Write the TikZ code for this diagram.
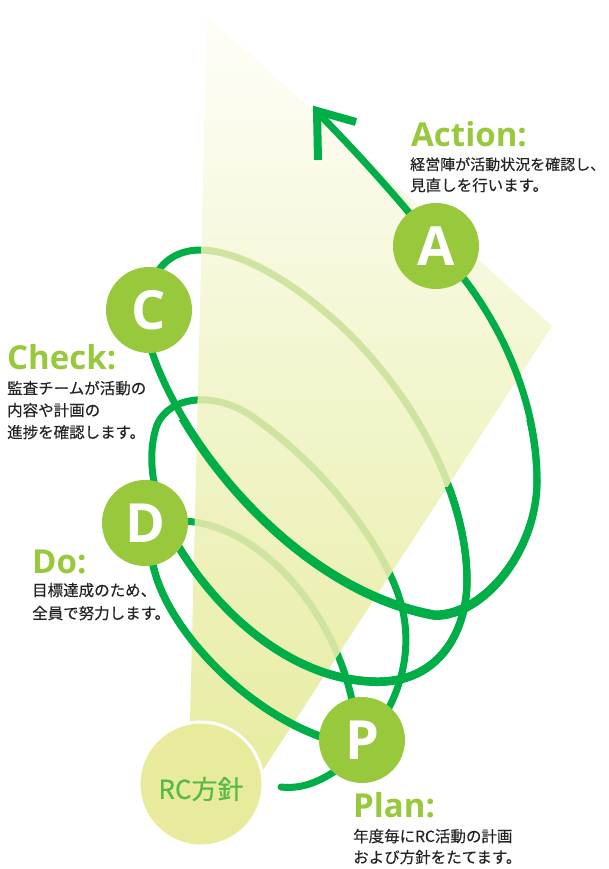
\documentclass[tikz,border=0pt]{standalone}
\usepackage{fontspec}
\newfontfamily\jp{Noto Sans CJK JP}[FakeBold=0.25]
\newfontfamily\jpm{Noto Sans CJK JP}[FakeBold=0.6]
\newfontfamily\ttl{Open Sans}
\definecolor{sgreen}{RGB}{0,174,72}
\definecolor{lgreen}{RGB}{152,201,60}
\definecolor{paleg}{RGB}{208,228,162}
\definecolor{conelo}{RGB}{231,236,160}
\definecolor{conemid}{RGB}{243,246,208}
\definecolor{conehi}{RGB}{254,254,249}
\definecolor{rcfill}{RGB}{232,235,155}
\definecolor{rctext}{RGB}{88,184,72}
\definecolor{bodyc}{RGB}{35,35,35}
\begin{document}
\begin{tikzpicture}[x=1pt,y=-1pt,
  spiral/.style={draw=sgreen, line width=7pt},
  paleline/.style={draw=paleg, line width=7pt},
  lbl/.style={circle, fill=lgreen, minimum size=86pt, inner sep=0pt, text=white,
    font=\ttl\bfseries\fontsize{54}{54}\selectfont},
  ttlstyle/.style={text=lgreen, font=\ttl\bfseries\fontsize{33}{33}\selectfont, anchor=base west, inner sep=0pt},
  bodytxt/.style={text=bodyc, font=\jp\fontsize{15.5}{20}\selectfont, anchor=base west, inner sep=0pt},
]
\useasboundingbox (0,0) rectangle (608,869);
\def\conepath{(207,15) -- (552,326) -- (263,770) -- (201,784) -- (190,722) -- cycle}
% small back loop: D right -> P top
\def\pathS{(175,521) .. controls (250,518) and (330,600) .. (352,700) -- (354,715)}
% back loop: P top-right -> D top
\def\pathPback{(385,715) .. controls (405,680) and (412,640) .. (400,600)
  .. controls (385,550) and (330,470) .. (250,415)
  .. controls (215,392) and (170,395) .. (157,425)
  .. controls (150,445) and (150,470) .. (157,495)}
% loop D -> C (front bottom, back top)
\def\pathED{(172,535) .. controls (220,620) and (300,682) .. (380,681)
  .. controls (440,680) and (467,630) .. (467,580)
  .. controls (467,500) and (420,400) .. (340,325)
  .. controls (280,270) and (230,250) .. (200,250)
  .. controls (178,250) and (158,262) .. (152,285)}
% loop C -> A (front)
\def\pathEA{(151,340) -- (152,352) .. controls (185,450) and (300,590) .. (435,614)
  .. controls (485,614) and (537,548) .. (537,480)
  .. controls (537,400) and (500,320) .. (452,264)}
% loop D bottom -> P left (front)
\def\pathDP{(151,550) .. controls (155,620) and (250,720) .. (340,742)}
% back parts
\draw[spiral] \pathS;
\draw[spiral] \pathPback;
\draw[spiral] \pathED;
% cone
\shade[shading angle=-58, bottom color=conelo, middle color=conemid, top color=conehi] \conepath;
\begin{scope}
  \clip \conepath;
  \draw[paleline] \pathS;
  \draw[paleline] \pathPback;
  \draw[paleline] \pathED;
\end{scope}
% front parts
\begin{scope}
  \clip (0,487) rectangle (608,869);
  \draw[spiral] \pathED;
  \draw[spiral, yshift=-1.5pt] \pathED;
\end{scope}
\draw[spiral] \pathDP;
\draw[spiral, yshift=-1pt] \pathDP;
\draw[spiral] \pathEA;
\begin{scope}
  \clip (0,420) rectangle (608,869);
  \draw[spiral, yshift=-2.5pt] \pathEA;
\end{scope}
\draw[spiral, line cap=round] (281,787) .. controls (305,790) and (330,778) .. (352,757);
\draw[spiral] (428,236) .. controls (400,200) and (350,145) .. (317,112);
\draw[spiral, line width=8pt, miter limit=10] (356,122) -- (317,111) -- (318,160);
% circles
\node[circle, fill=rcfill, draw=white, line width=3pt, minimum size=124pt, inner sep=0pt] (RC) at (201,784) {};
\node[text=rctext, font=\jpm\fontsize{26}{26}\selectfont, inner sep=0pt] (RCt) at (201,789) {RC方針};
\node[lbl] (P) at (362,740) {P};
\node[lbl] (D) at (145,523) {D};
\node[lbl] (C) at (149,310) {C};
\node[lbl] (A) at (436,246) {A};
% texts
\node[ttlstyle] (tA) at (411,147) {Action:};
\node[bodytxt, font=\jp\fontsize{15}{20}\selectfont] (bA1) at (410,170) {経営陣が活動状況を確認し、};
\node[bodytxt] (bA2) at (410,191) {見直しを行います。};
\node[ttlstyle] (tC) at (7,369) {Check:};
\node[bodytxt] (bC1) at (7,394) {監査チームが活動の};
\node[bodytxt] (bC2) at (7,416) {内容や計画の};
\node[bodytxt] (bC3) at (7,438) {進捗を確認します。};
\node[ttlstyle] (tD) at (32,573) {Do:};
\node[bodytxt] (bD1) at (32,596) {目標達成のため、};
\node[bodytxt] (bD2) at (32,619) {全員で努力します。};
\node[ttlstyle] (tP) at (353,817) {Plan:};
\node[bodytxt] (bP1) at (353,842) {年度毎にRC活動の計画};
\node[bodytxt] (bP2) at (353,863) {および方針をたてます。};
\end{tikzpicture}
\end{document}
